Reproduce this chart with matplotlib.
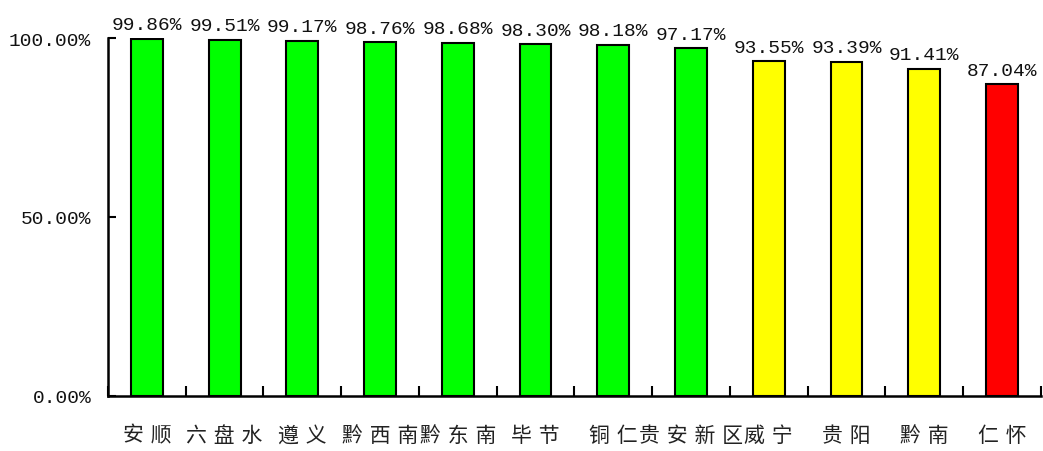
import matplotlib
matplotlib.use("Agg")
import matplotlib.pyplot as plt
import numpy as np

categories = ["安顺", "六盘水", "遵义", "黔西南", "黔东南", "毕节", "铜仁", "贵安新区", "威宁", "贵阳", "黔南", "仁怀"]
values = [99.86, 99.51, 99.17, 98.76, 98.68, 98.30, 98.18, 97.17, 93.55, 93.39, 91.41, 87.04]
colors = ["#00FF00"] * 8 + ["#FFFF00"] * 3 + ["#FF0000"]
yticks = [0, 50, 100]
ytick_labels = ["0.00%", "50.00%", "100.00%"]

num_font = "Liberation Mono"
cjk = ["Noto Sans CJK SC", "DejaVu Sans"]

fig = plt.figure(figsize=(10.43, 4.52), dpi=100)
ax = fig.add_axes([0.1035, 0.1217, 0.8945, 0.792])

x = np.arange(len(categories))
bars = ax.bar(x, values, width=0.41, color=colors, edgecolor="black", linewidth=1.5, zorder=3)

ax.set_xlim(-0.5, len(categories) - 0.5)
ax.set_ylim(0, 100)

for xi, v in zip(x, values):
    ax.annotate(f"{v:.2f}%", (xi, v), xytext=(0, 4), textcoords="offset points",
                ha="center", va="bottom", fontsize=14, family=num_font, color="#111111")

ax.set_yticks(yticks)
ax.set_yticklabels(ytick_labels, family=num_font, fontsize=14, color="#111111")
ax.tick_params(axis="y", direction="in", length=6, width=1.5, pad=12)

ax.set_xticks(x)
spaced = ["\u2004".join(list(c)) for c in categories]
ax.set_xticklabels(spaced, family=cjk, fontsize=15, color="#222222")
ax.tick_params(axis="x", which="major", length=0, pad=20)
ax.set_xticks(np.arange(-0.5, len(categories)), minor=True)
ax.tick_params(axis="x", which="minor", direction="in", length=7, width=1.5)

for s in ["top", "right"]:
    ax.spines[s].set_visible(False)
for s in ["left", "bottom"]:
    ax.spines[s].set_linewidth(1.8)

fig.savefig("out.png", dpi=100)
